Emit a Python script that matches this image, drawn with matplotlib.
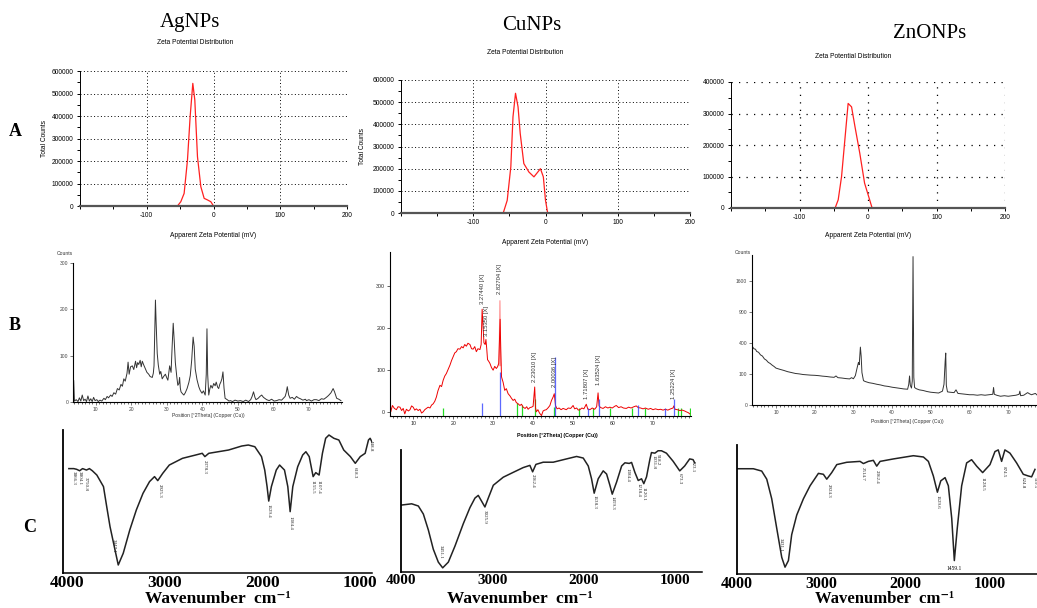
import numpy as np
import matplotlib
matplotlib.use('Agg')
import matplotlib.pyplot as plt
from matplotlib.ticker import MultipleLocator

plt.rcParams['font.family'] = ['Liberation Sans', 'DejaVu Sans']
plt.rcParams['axes.unicode_minus'] = False

W, H = 1037, 608

# ---------------- data ----------------
samples = ['AgNPs', 'CuNPs', 'ZnONPs']
row_labels = ['A', 'B', 'C']

# zeta potential distributions (mV, total counts)
ag_zeta_mv = [-150, -54, -49, -44, -39, -35, -31, -28, -24, -19, -14, -9, -4, 0, 150]
ag_zeta_counts = [0, 0, 19000, 56000, 204000, 397000, 545000, 471000, 219000, 86000,
                  34000, 27000, 19000, 0, 0]
cu_zeta_mv = [-150, -58.5, -53, -48, -45, -41.5, -38, -35, -30, -23, -16, -10.6, -7, -3, 0, 3, 150]
cu_zeta_counts = [0, 0, 57000, 208000, 434000, 540000, 479000, 359000, 223000, 185000,
                  163000, 185000, 200000, 163000, 57000, 0, 0]
zn_zeta_mv = [-150, -48, -43.5, -38.6, -33.8, -29, -24, -19, -12, -5, 2.4, 6, 150]
zn_zeta_counts = [0, 0, 26000, 100000, 216000, 332000, 321000, 258000, 174000, 79000,
                  26000, 0, 0]

# XRD patterns (2theta, counts)
ag_xrd_2theta = [3.8, 4.0, 4.5, 5.0, 5.4, 5.8, 6.2, 6.6, 7.0, 7.4, 7.8, 8.2, 8.6, 9.0, 9.4, 9.8,
                 10.3, 10.7, 11.2, 11.7, 12.3, 12.7, 13.2, 13.6, 14.2, 14.6, 15.1, 15.6, 16.1,
                 16.6, 17.1, 17.5, 17.9, 18.3, 18.8, 19.1, 19.4, 19.8, 20.3, 20.7, 21.2, 21.5,
                 21.8, 22.1, 22.5, 22.8, 23.1, 23.5, 24.0, 24.4, 24.9, 25.3, 25.9, 26.2, 26.4,
                 26.6, 26.8, 27.0, 27.3, 27.6, 28.0, 28.3, 28.7, 29.1, 29.6, 30.0, 30.3, 30.8,
                 31.2, 31.5, 31.8, 32.1, 32.4, 32.8, 33.1, 33.4, 33.6, 33.8, 34.0, 34.4, 34.8,
                 35.2, 35.7, 36.2, 36.6, 37.0, 37.4, 37.7, 38.0, 38.5, 39.0, 39.4, 39.9, 40.3,
                 40.8, 41.1, 41.3, 41.5, 41.8, 42.1, 42.4, 42.8, 43.2, 43.6, 43.9, 44.3, 44.6,
                 44.9, 45.2, 45.5, 45.8, 46.1, 46.4, 47.0, 47.5, 47.9, 48.5, 49.2, 50.0, 50.7,
                 51.5, 52.2, 53.0, 53.6, 54.0, 54.4, 54.8, 55.1, 55.7, 56.2, 56.7, 57.2, 58.1,
                 58.8, 59.5, 60.2, 60.9, 61.6, 62.3, 62.8, 63.3, 63.6, 63.9, 64.3, 64.7, 65.3,
                 65.9, 66.5, 67.0, 67.6, 68.3, 69.0, 69.3, 70.0, 70.7, 71.4, 72.1, 72.8, 73.5,
                 74.2, 74.9, 75.5, 76.2, 76.8, 77.2, 77.8, 78.4, 79.0]
ag_xrd_counts = [46, 2, 5, 1, 9, 2, 15, 3, 6, 1, 13, 2, 7, 1, 10, 3,
                 5, 1, 4, 2, 8, 5, 12, 9, 15, 12, 20, 17, 29,
                 26, 38, 34, 50, 45, 62, 86, 60, 76, 78, 70, 88, 74,
                 85, 81, 90, 76, 88, 80, 71, 64, 60, 55, 53, 62, 78,
                 150, 220, 170, 105, 80, 60, 66, 50, 55, 60, 52, 47, 78,
                 64, 120, 170, 130, 85, 55, 36, 40, 53, 30, 22, 18, 15,
                 20, 29, 42, 57, 90, 140, 120, 71, 48, 33, 25, 19, 24,
                 15, 60, 158, 60, 15, 28, 36, 30, 40, 35, 43, 32, 29,
                 38, 43, 50, 65, 30, 8, 5, 2, 3, 1, 4, 2, 3,
                 1, 4, 1, 5, 12, 22, 10, 5, 8, 12, 15, 10, 5,
                 3, 6, 2, 3, 5, 4, 8, 12, 20, 33, 15, 8, 10,
                 6, 12, 9, 7, 4, 6, 3, 5, 2, 5, 5, 3, 7,
                 6, 10, 14, 20, 29, 22, 8, 6, 3]

cu_xrd_2theta = [4.0, 4.2, 4.4, 4.8, 5.3, 5.8, 6.2, 6.7, 7.1, 7.5, 7.9, 8.3, 8.8, 9.2, 9.6, 10.0,
                 10.4, 10.8, 11.25, 11.7, 12.1, 12.5, 12.9, 13.3, 13.75, 14.2, 14.6, 15.0, 15.4,
                 15.8, 16.2, 16.7, 17.1, 17.5, 17.9, 18.3, 18.7, 19.2, 19.6, 20.0, 20.4, 20.8,
                 21.2, 21.7, 22.1, 22.5, 22.9, 23.3, 23.7, 24.2, 24.6, 25.0, 25.4, 25.8, 26.2,
                 26.7, 27.0, 27.25, 27.5, 27.7, 28.0, 28.2, 28.4, 28.6, 28.9, 29.2, 29.6, 30.0,
                 30.4, 30.8, 31.1, 31.4, 31.6, 31.75, 31.9, 32.1, 32.5, 32.9, 33.3, 33.75, 34.2,
                 34.6, 35.0, 35.4, 35.8, 36.25, 36.7, 37.1, 37.5, 38.0, 38.4, 38.75, 39.2, 39.6,
                 40.0, 40.4, 40.6, 40.8, 41.2, 41.6, 42.1, 42.5, 42.9, 43.3, 43.8, 44.2, 44.6,
                 45.0, 45.3, 45.6, 46.0, 46.5, 47.0, 47.5, 48.3, 48.8, 49.4, 50.0, 50.4, 50.9,
                 51.3, 51.7, 52.2, 52.7, 53.3, 53.7, 54.2, 54.8, 55.4, 55.9, 56.25, 56.5, 56.9,
                 57.5, 58.1, 58.7, 59.2, 59.8, 60.4, 60.8, 61.4, 62.0, 62.6, 63.3, 63.9, 64.5,
                 65.2, 65.8, 66.3, 66.9, 67.5, 68.1, 68.8, 69.4, 70.0, 70.6, 71.3, 71.9, 72.5,
                 73.1, 73.7, 74.4, 75.0, 75.2, 75.5, 76.1, 76.7, 77.3, 77.9, 78.3, 78.8, 79.2]
cu_xrd_counts = [5, 35, 0, 15, 8, 5, 12, 11, 3, 8, -5, 6, 2, 5, 14, 11,
                 4, 7, 3, 6, -3, 0, 5, 8, 11, 9, 16, 19, 25,
                 35, 50, 63, 60, 75, 85, 91, 100, 111, 122, 131, 140, 143,
                 150, 149, 155, 152, 160, 156, 163, 160, 150, 149, 155, 143, 150,
                 148, 160, 244, 200, 164, 160, 172, 150, 124, 120, 115, 105, 99,
                 108, 103, 107, 115, 180, 220, 150, 83, 70, 51, 55, 43, 38,
                 32, 27, 30, 22, 19, 15, 18, 11, 8, 12, 6, 10, 11,
                 13, 59, 10, 0, 5, -3, -9, 2, 4, 5, 10, 15, 27,
                 35, 43, 15, 7, 9, 5, 8, 5, 9, 8, 15, 7, 9,
                 4, 5, 9, 7, 18, 6, 5, 9, 6, 12, 45, 14, 10,
                 8, 12, 9, 11, 9, 13, 15, 10, 12, 9, 8, 11, 9,
                 12, 14, 10, 9, 7, 9, 6, 8, 5, 7, 5, 6, 4,
                 6, 4, 7, 9, 14, 6, 5, 3, 4, 2, 0, -2, -5]
cu_pale_2theta = [31.5, 31.7, 31.9]
cu_pale_counts = [110, 264, 110]
cu_labels = [('3.27440 [X]', 27.3, 256), ('3.15350 [X]', 28.4, 180), ('2.82704 [X]', 31.7, 280),
             ('2.23010 [X]', 40.4, 71), ('2.00036 [X]', 45.3, 60), ('1.71807 [X]', 53.3, 31),
             ('1.63524 [X]', 56.3, 63), ('1.25224 [X]', 75.2, 31)]
cu_ref_blue = [27.3, 31.7, 45.4, 53.8, 56.6, 66.2, 73.0, 75.2]
cu_ref_blue_h = [20, 95, 130, 10, 30, 15, 10, 30]
cu_ref_green = [17.5, 36.0, 37.2, 40.4, 45.3, 51.6, 55.1, 59.2, 64.8, 67.9, 76.3, 77.0, 79.2]
cu_ref_green_h = [8, 22, 15, 30, 12, 8, 8, 10, 8, 10, 10, 8, 10]

zn_xrd_2theta = [4.0, 4.3, 4.7, 5.0, 5.5, 6.0, 6.5, 7.0, 7.5, 8.0, 8.5, 9.0, 9.5, 10.0, 11.0,
                 12.0, 13.0, 14.0, 15.0, 16.0, 17.0, 18.0, 19.0, 20.0, 21.0, 22.0, 23.0, 24.0,
                 25.0, 25.5, 26.0, 27.0, 28.0, 29.0, 29.5, 30.0, 30.5, 31.0, 31.3, 31.5, 31.8,
                 32.0, 32.2, 32.6, 33.0, 34.0, 35.0, 36.0, 37.0, 38.0, 39.0, 40.0, 41.0, 42.0,
                 43.0, 44.0, 44.3, 44.5, 44.7, 45.0, 45.2, 45.4, 45.6, 45.8, 46.2, 47.0, 48.0,
                 49.0, 50.0, 51.0, 52.0, 53.0, 53.4, 53.7, 53.85, 54.0, 54.3, 55.0, 56.0, 56.5,
                 57.0, 58.0, 59.0, 60.0, 61.0, 62.0, 63.0, 64.0, 65.0, 66.0, 66.2, 66.4, 67.0,
                 68.0, 69.0, 70.0, 71.0, 72.0, 72.8, 73.0, 73.2, 74.0, 75.0, 75.5, 76.0, 77.0, 77.5]
zn_xrd_counts = [350, 330, 325, 300, 290, 262, 250, 222, 210, 190, 180, 166, 155, 142, 133,
                 125, 116, 110, 104, 101, 97, 95, 93, 92, 90, 87, 85, 82,
                 80, 88, 78, 76, 73, 71, 78, 72, 90, 150, 190, 170, 350,
                 250, 110, 62, 58, 52, 49, 45, 42, 38, 36, 33, 31, 29,
                 27, 26, 45, 88, 40, 30, 60, 2300, 80, 32, 28, 24, 22,
                 19, 17, 16, 15, 20, 45, 200, 282, 40, 18, 17, 16, 24,
                 14, 13, 12, 11, 11, 10, 11, 10, 11, 12, 32, 12, 10,
                 8, 9, 8, 9, 10, 12, 20, 9, 10, 16, 13, 11, 14, 10]

# FTIR spectra (wavenumber read against the printed axis, relative transmittance)
ag_ftir_wn = [3980, 3930, 3900, 3870, 3840, 3800, 3770, 3740, 3694, 3626, 3593, 3559, 3508, 3475,
              3424, 3357, 3290, 3222, 3155, 3104, 3071, 3020, 2953, 2818, 2684, 2616, 2589, 2549,
              2347, 2212, 2145, 2078, 2010, 1977, 1953, 1936, 1909, 1859, 1825, 1775, 1741, 1717,
              1690, 1640, 1589, 1556, 1522, 1482, 1455, 1421, 1387, 1354, 1320, 1270, 1219, 1169,
              1101, 1051, 1000, 950, 916, 899, 882]
ag_ftir_t = [73, 73, 72.5, 71.5, 73, 72, 73, 71.5, 68.5, 60.4, 46.4, 32.4, 16.1, 5.6,
             13.8, 30.1, 44.1, 55.7, 63.9, 67.4, 64.6, 69.7, 75.5, 80.2, 82.5, 83.7, 81.4, 83.7,
             86.0, 88.8, 89.5, 88.3, 81.4, 72.0, 60.4, 50.3, 60.4, 72.0, 75.5, 72.0, 60.4, 42.9,
             60.4, 74.3, 82.5, 84.8, 81.4, 67.4, 70.2, 68.5, 83.7, 94.2, 96.5, 94.2, 93.0, 86.0,
             81.4, 76.7, 81.4, 83.7, 93.0, 94.2, 91.9]
ag_ftir_labels = [('3866.3', 3930, 71), ('3804.1', 3870, 71), ('3750.8', 3811, 67),
                  ('3447.1', 3525, 24), ('2925.3', 3054, 62), ('2378.3', 2589, 79),
                  ('1629.4', 1943, 48), ('1384.4', 1714, 40), ('1155.5', 1488, 65),
                  ('1107.4', 1431, 65), ('618.3', 1058, 74), ('448.8', 892, 93)]

cu_ftir_wn = [3992, 3883, 3810, 3755, 3700, 3646, 3591, 3543, 3481, 3408, 3317, 3244, 3189, 3153,
              3116, 3080, 3043, 2988, 2879, 2769, 2660, 2587, 2557, 2521, 2441, 2331, 2185, 2075,
              2002, 1947, 1911, 1882, 1838, 1783, 1746, 1710, 1684, 1636, 1581, 1545, 1498, 1472,
              1436, 1399, 1363, 1338, 1308, 1272, 1254, 1217, 1181, 1145, 1090, 1017, 944, 890,
              835, 798, 780]
cu_ftir_t = [54.9, 55.9, 54.1, 47.5, 34.4, 18.7, 8.1, 3.4, 8.1, 21.3, 39.6, 52.8, 60.6, 62.8,
             58.0, 53.3, 60.6, 71.1, 77.7, 81.7, 85.6, 87.4, 82.1, 88.2, 90.0, 90.0, 92.7, 94.7,
             93.4, 86.9, 76.4, 64.6, 76.4, 82.9, 80.3, 71.1, 63.8, 73.8, 86.9, 89.5, 89.0, 89.8,
             81.7, 75.0, 76.4, 72.4, 78.0, 92.1, 97.9, 97.4, 99.4, 99.4, 97.4, 90.8, 82.9, 86.9,
             92.7, 92.1, 89.5]
cu_ftir_labels = [('3451.1', 3560, 22), ('3025.9', 3080, 51), ('2362.4', 2557, 80),
                  ('1638.3', 1882, 63), ('1459.3', 1684, 62), ('1384.4', 1520, 85),
                  ('1218.4', 1399, 73), ('1120.1', 1338, 70), ('1031.8', 1230, 96),
                  ('918.2', 1181, 97), ('673.3', 944, 81), ('523.1', 798, 91)]

zn_ftir_wn = [3996, 3806, 3707, 3647, 3588, 3529, 3469, 3430, 3390, 3351, 3291, 3212, 3133, 3034,
              2975, 2935, 2876, 2816, 2698, 2540, 2500, 2441, 2382, 2342, 2302, 2144, 1907, 1788,
              1729, 1670, 1622, 1582, 1531, 1492, 1452, 1421, 1386, 1334, 1275, 1216, 1156, 1085,
              998, 939, 900, 860, 821, 761, 682, 603, 544, 504, 464]
zn_ftir_t = [81.6, 81.6, 79.8, 73.5, 58.3, 35.6, 12.9, 5.3, 10.4, 30.5, 45.7, 58.3, 68.4, 78.0,
             77.3, 73.5, 78.6, 84.8, 86.6, 87.3, 85.6, 87.3, 88.1, 83.6, 87.3, 89.2, 91.7, 90.7,
             87.3, 76.0, 63.4, 72.2, 74.7, 68.4, 43.2, 10.4, 35.6, 68.4, 86.1, 88.6, 83.6, 78.6,
             84.8, 94.9, 96.2, 87.3, 96.2, 93.7, 86.1, 77.3, 76.0, 75.3, 81.1]
zn_ftir_labels = [('3431.1', 3480, 28), ('2924.3', 2916, 70), ('2514.7', 2512, 83),
                  ('2362.4', 2342, 81), ('1629.6', 1622, 61), ('1128.5', 1085, 75),
                  ('874.5', 839, 84), ('624.8', 603, 75), ('519.5', 470, 75)]
zn_ftir_min_label = ('1459.1', 1421, 4)


def px_axes(fig, left, top, right, bottom):
    return fig.add_axes([left / W, 1 - bottom / H, (right - left) / W, (bottom - top) / H])


def px_text(fig, x, y, s, **kw):
    fig.text(x / W, 1 - y / H, s, **kw)


fig = plt.figure(figsize=(W / 100, H / 100), dpi=100)
fig.patch.set_facecolor('white')

serif = ['Liberation Serif', 'DejaVu Serif']

# column titles and row labels
for name, (x, y) in zip(samples, [(190, 23), (532, 25), (930, 34)]):
    px_text(fig, x, y, name, family=serif, fontsize=15, ha='center', va='center')
for lab, (x, y) in zip(row_labels, [(15, 132), (15, 325), (30, 527)]):
    px_text(fig, x, y, lab, family=serif, fontsize=13, fontweight='bold', ha='center', va='center')


# ---------------- row A: zeta potential ----------------
def zeta_panel(box, mv, counts, ymax, title_xy, xlabel_xy, ylabel_x, sparse=False):
    ax = px_axes(fig, *box)
    ax.plot(mv, counts, color='#ff2020', lw=0.9)
    ax.set_xlim(-200, 200)
    ax.set_ylim(0, ymax)
    ax.set_xticks([-100, 0, 100, 200])
    ax.xaxis.set_minor_locator(MultipleLocator(50))
    ax.set_yticks(np.arange(0, ymax + 1, 100000))
    ax.yaxis.set_minor_locator(MultipleLocator(50000))
    ax.ticklabel_format(axis='y', style='plain')
    ls = (0, (1, 5)) if sparse else (0, (1, 2.5))
    ax.grid(True, which='major', color='black', linestyle=ls, linewidth=0.9 if sparse else 0.7)
    for s in ['top', 'right']:
        ax.spines[s].set_visible(False)
    ax.spines['bottom'].set_color('#555555')
    ax.spines['bottom'].set_linewidth(1.6)
    ax.spines['left'].set_linewidth(0.7)
    ax.tick_params(labelsize=4.8, length=2.5, width=0.7, pad=2)
    ax.tick_params(which='minor', length=2, width=0.7)
    ax.set_axisbelow(True)
    px_text(fig, title_xy[0], title_xy[1], 'Zeta Potential Distribution', fontsize=4.8,
            ha='center', va='center')
    px_text(fig, xlabel_xy[0], xlabel_xy[1], 'Apparent Zeta Potential (mV)', fontsize=4.8,
            ha='center', va='center')
    if ylabel_x is not None:
        px_text(fig, ylabel_x, (box[1] + box[3]) / 2, 'Total Counts', fontsize=4.8,
                ha='center', va='center', rotation=90)
    return ax


zeta_panel((80, 71, 347, 206), ag_zeta_mv, ag_zeta_counts, 600000, (195, 43), (213, 236), 45)
zeta_panel((401, 80, 690, 213), cu_zeta_mv, cu_zeta_counts, 600000, (525, 52), (545, 243), 362)
zeta_panel((731, 82, 1005, 208), zn_zeta_mv, zn_zeta_counts, 400000, (853, 57), (868, 236), None,
           sparse=True)


# ---------------- row B: XRD ----------------
def xrd_axes(box, xlim):
    ax = px_axes(fig, *box)
    ax.set_xlim(*xlim)
    for s in ['top', 'right']:
        ax.spines[s].set_visible(False)
    ax.spines['left'].set_linewidth(0.8)
    ax.spines['bottom'].set_linewidth(0.8)
    ax.set_xticks(np.arange(10, 71, 10))
    ax.xaxis.set_minor_locator(MultipleLocator(1))
    ax.tick_params(labelsize=3.6, length=2, width=0.5, pad=1.5, colors='#444444')
    ax.tick_params(which='minor', length=1.2, width=0.4)
    return ax


ax = xrd_axes((73, 263, 342, 402), (3.6, 79.3))
ax.plot(ag_xrd_2theta, ag_xrd_counts, color='#333333', lw=0.7)
ax.set_ylim(0, 300)
ax.set_yticks([0, 100, 200, 300])
px_text(fig, 65, 253, 'Counts', fontsize=3.6, ha='center', va='center', color='#333333')
px_text(fig, 208, 415, 'Position [°2Theta] (Copper (Cu))', fontsize=3.6, ha='center',
        va='center', color='#333333')

ax = xrd_axes((390, 252, 691, 416), (4.2, 79.5))
ax.set_ylim(-10, 380)
ax.set_yticks([0, 100, 200, 300])
ax.vlines(cu_ref_green, -10, cu_ref_green_h, color='#22dd22', lw=0.9)
ax.plot(cu_pale_2theta, cu_pale_counts, color='#ff9a9a', lw=0.9)
ax.plot(cu_xrd_2theta, cu_xrd_counts, color='#ee0000', lw=0.7)
ax.vlines(cu_ref_blue, -10, cu_ref_blue_h, color='#3344ff', lw=0.9, alpha=0.8)
for txt, x, y in cu_labels:
    ax.text(x, y, txt, rotation=90, fontsize=4.2, ha='center', va='bottom', color='#333333')
ax.tick_params(labelsize=3.8, colors='#222222')
px_text(fig, 557, 435, 'Position [°2Theta] (Copper (Cu))', fontsize=3.8, ha='center',
        va='center', fontweight='bold')

ax = xrd_axes((752, 255, 1040, 405), (3.8, 78.2))
ax.set_yscale('function', functions=(lambda v: np.sqrt(np.clip(v, 0, None)), np.square))
ax.set_ylim(0, 2350)
ax.set_yticks([0, 100, 400, 900, 1600])
ax.plot(zn_xrd_2theta, zn_xrd_counts, color='#333333', lw=0.7)
px_text(fig, 743, 252, 'Counts', fontsize=3.6, ha='center', va='center', color='#333333')
px_text(fig, 907, 422, 'Position [°2Theta] (Copper (Cu))', fontsize=3.6, ha='center',
        va='center', color='#333333')


# ---------------- row C: FTIR ----------------
def ftir_panel(box, xlim, wn, t, labels, xlabel_xy, tick_size, label_size):
    ax = px_axes(fig, *box)
    ax.plot(wn, t, color='#222222', lw=1.1)
    ax.set_xlim(*xlim)
    ax.set_ylim(0, 100)
    ax.set_xticks([4000, 3000, 2000, 1000])
    ax.set_yticks([])
    for s in ['top', 'right']:
        ax.spines[s].set_visible(False)
    ax.spines['left'].set_linewidth(1.3)
    ax.spines['bottom'].set_linewidth(1.1)
    ax.tick_params(axis='x', length=0, pad=1.5)
    for lab in ax.get_xticklabels():
        lab.set_fontfamily(serif)
        lab.set_fontweight('bold')
        lab.set_fontsize(tick_size)
    for txt, x, y in labels:
        ax.text(x, y, txt, rotation=270, fontsize=3.6, ha='center', va='top',
                family=serif, color='#222222')
    px_text(fig, xlabel_xy[0], xlabel_xy[1], 'Wavenumber  cm\u207b\u00b9', family=serif,
            fontsize=label_size, fontweight='bold', ha='center', va='bottom')
    return ax


ftir_panel((63, 430, 372, 573), (4040, 880), ag_ftir_wn, ag_ftir_t, ag_ftir_labels,
           (218, 607), 12.5, 12.5)
ftir_panel((401, 450, 702, 572), (4000, 700), cu_ftir_wn, cu_ftir_t, cu_ftir_labels,
           (520, 607), 11, 12.5)
ax = ftir_panel((737, 445, 1037, 574), (4000, 440), zn_ftir_wn, zn_ftir_t, zn_ftir_labels,
                (885, 607), 11.5, 12)
ax.text(zn_ftir_min_label[1], zn_ftir_min_label[2], zn_ftir_min_label[0], fontsize=4,
        ha='center', va='center', family=serif)

fig.savefig('out.png', dpi=100, facecolor='white')
